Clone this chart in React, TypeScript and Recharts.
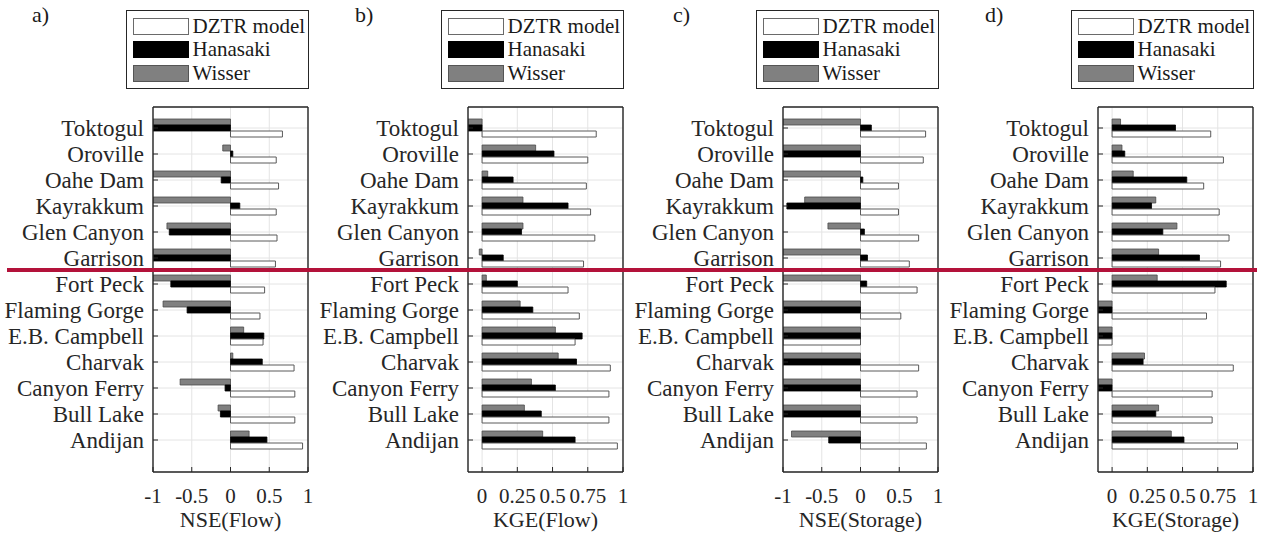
import React from 'react';
import { BarChart, Bar, XAxis, YAxis, CartesianGrid } from 'recharts';

const FONT = "'Liberation Serif', Tinos, 'Times New Roman', Times, 'Nimbus Roman', 'DejaVu Serif', serif";

const reservoirs = [
  'Toktogul', 'Oroville', 'Oahe Dam', 'Kayrakkum', 'Glen Canyon', 'Garrison',
  'Fort Peck', 'Flaming Gorge', 'E.B. Campbell', 'Charvak', 'Canyon Ferry', 'Bull Lake', 'Andijan',
];

const seriesNames = ['DZTR model', 'Hanasaki', 'Wisser'];

// a) NSE(Flow)
const nseFlowDZTR = [0.67, 0.59, 0.62, 0.59, 0.6, 0.58, 0.44, 0.38, 0.42, 0.82, 0.83, 0.83, 0.93];
const nseFlowHanasaki = [-1, 0.03, -0.12, 0.12, -0.79, -1, -0.77, -0.56, 0.43, 0.41, -0.07, -0.13, 0.47];
const nseFlowWisser = [-1, -0.1, -1, -1, -0.82, -1, -1, -0.87, 0.17, 0.03, -0.65, -0.16, 0.24];

// b) KGE(Flow)
const kgeFlowDZTR = [0.81, 0.75, 0.74, 0.77, 0.8, 0.72, 0.61, 0.69, 0.66, 0.91, 0.9, 0.9, 0.96];
const kgeFlowHanasaki = [-0.1, 0.51, 0.22, 0.61, 0.28, 0.15, 0.25, 0.36, 0.71, 0.67, 0.52, 0.42, 0.66];
const kgeFlowWisser = [-0.1, 0.38, 0.04, 0.29, 0.29, -0.02, 0.03, 0.27, 0.52, 0.54, 0.35, 0.3, 0.43];

// c) NSE(Storage)
const nseStorDZTR = [0.84, 0.81, 0.49, 0.49, 0.75, 0.63, 0.73, 0.52, -1, 0.75, 0.73, 0.73, 0.85];
const nseStorHanasaki = [0.14, -1, 0.03, -0.95, 0.05, 0.09, 0.08, -1, -1, -1, -1, -1, -0.41];
const nseStorWisser = [-1, -1, -1, -0.72, -0.42, -1, -1, -1, -1, -1, -1, -1, -0.89];

// d) KGE(Storage)
const kgeStorDZTR = [0.7, 0.79, 0.65, 0.76, 0.83, 0.77, 0.73, 0.67, -0.1, 0.86, 0.71, 0.71, 0.89];
const kgeStorHanasaki = [0.45, 0.09, 0.53, 0.28, 0.36, 0.62, 0.81, -0.1, -0.1, 0.22, -0.1, 0.31, 0.51];
const kgeStorWisser = [0.06, 0.07, 0.15, 0.31, 0.46, 0.33, 0.32, -0.1, -0.1, 0.23, -0.1, 0.33, 0.42];

const nseTicks = [-1, -0.5, 0, 0.5, 1];
const kgeTicks = [0, 0.25, 0.5, 0.75, 1];
const nseDomain: [number, number] = [-1, 1];
const kgeDomain: [number, number] = [-0.1, 1];

const panelLetters = ['a)', 'b)', 'c)', 'd)'];
const axisTitles = ['NSE(Flow)', 'KGE(Flow)', 'NSE(Storage)', 'KGE(Storage)'];

function build(dztr: number[], han: number[], wis: number[]) {
  return reservoirs.map((name, i) => ({ name, dztr: dztr[i], hanasaki: han[i], wisser: wis[i] }));
}

const panels = [
  { data: build(nseFlowDZTR, nseFlowHanasaki, nseFlowWisser), domain: nseDomain, ticks: nseTicks },
  { data: build(kgeFlowDZTR, kgeFlowHanasaki, kgeFlowWisser), domain: kgeDomain, ticks: kgeTicks },
  { data: build(nseStorDZTR, nseStorHanasaki, nseStorWisser), domain: nseDomain, ticks: nseTicks },
  { data: build(kgeStorDZTR, kgeStorHanasaki, kgeStorWisser), domain: kgeDomain, ticks: kgeTicks },
];

const PANEL_W = 315;
const PLOT_LEFT = 153;
const letterX = [32, 355, 673, 985];

const swatches = [
  { fill: '#ffffff', stroke: '#6a6a6a' },
  { fill: '#000000', stroke: '#000000' },
  { fill: '#808080', stroke: '#555555' },
];

function LegendBox({ plotLeft }: { plotLeft: number }) {
  const rowTops = [18, 41, 65];
  return (
    <div
      style={{
        position: 'absolute',
        left: plotLeft - 27,
        top: 10,
        width: 183,
        height: 79,
        border: '1.5px solid #262626',
        boxSizing: 'border-box',
        background: '#fff',
        fontFamily: FONT,
      }}
    >
      {seriesNames.map((n, i) => (
        <React.Fragment key={n}>
          <div
            style={{
              position: 'absolute',
              left: 5.5,
              top: rowTops[i] - 11.5,
              width: 56,
              height: 17,
              boxSizing: 'border-box',
              background: swatches[i].fill,
              border: `1px solid ${swatches[i].stroke}`,
            }}
          />
          <div
            style={{
              position: 'absolute',
              left: 65.5,
              top: rowTops[i] - 11.5 - 3,
              height: 23,
              lineHeight: '23px',
              fontSize: 21,
              color: '#1a1a1a',
              whiteSpace: 'nowrap',
            }}
          >
            {n}
          </div>
        </React.Fragment>
      ))}
    </div>
  );
}

function Panel({ idx }: { idx: number }) {
  const p = panels[idx];
  const axisStroke = { stroke: '#262626', strokeWidth: 1.4 };
  return (
    <div style={{ position: 'absolute', left: idx * PANEL_W, top: 0, width: PANEL_W, height: 537 }}>
      <BarChart
        width={PANEL_W}
        height={537}
        data={p.data}
        layout="vertical"
        margin={{ top: 106, right: 6, bottom: 0, left: 0 }}
        barGap={0}
        barSize={6}
        style={{ fontFamily: FONT }}
      >
        <CartesianGrid xAxisId="bottom" yAxisId="left" stroke="#e4e4e4" strokeWidth={1} />
        <XAxis
          xAxisId="bottom"
          type="number"
          domain={p.domain}
          ticks={p.ticks}
          allowDataOverflow
          interval={0}
          height={65}
          tickSize={-5}
          tickMargin={21}
          axisLine={axisStroke}
          tickLine={{ stroke: '#262626' }}
          tick={{ fill: '#262626', fontSize: 21, fontFamily: FONT }}
          tickFormatter={(v: number) => String(v)}
          label={{ value: axisTitles[idx], position: 'insideBottom', offset: 10, fill: '#262626', fontSize: 22, fontFamily: FONT }}
        />
        <XAxis
          xAxisId="top"
          orientation="top"
          type="number"
          domain={p.domain}
          ticks={p.ticks}
          allowDataOverflow
          interval={0}
          height={1}
          tick={false}
          tickSize={-5}
          axisLine={axisStroke}
          tickLine={{ stroke: '#262626' }}
        />
        <YAxis
          yAxisId="left"
          type="category"
          dataKey="name"
          width={PLOT_LEFT}
          interval={0}
          padding={{ top: 8, bottom: 19 }}
          tickSize={-5}
          tickMargin={14}
          axisLine={axisStroke}
          tickLine={{ stroke: '#262626' }}
          tick={{ fill: '#262626', fontSize: 23, fontFamily: FONT }}
        />
        <YAxis
          yAxisId="right"
          orientation="right"
          type="category"
          dataKey="name"
          width={1}
          interval={0}
          padding={{ top: 8, bottom: 19 }}
          tick={false}
          tickSize={-5}
          axisLine={axisStroke}
          tickLine={{ stroke: '#262626' }}
        />
        <Bar xAxisId="bottom" yAxisId="left" dataKey="wisser" name="Wisser" fill="#808080" stroke="#4a4a4a" strokeWidth={0.8} isAnimationActive={false} />
        <Bar xAxisId="bottom" yAxisId="left" dataKey="hanasaki" name="Hanasaki" fill="#000000" stroke="#000000" strokeWidth={0.8} isAnimationActive={false} />
        <Bar xAxisId="bottom" yAxisId="left" dataKey="dztr" name="DZTR model" fill="#ffffff" stroke="#5a5a5a" strokeWidth={1} isAnimationActive={false} />
      </BarChart>
      <div
        style={{
          position: 'absolute',
          left: letterX[idx] - idx * PANEL_W,
          top: 4,
          fontFamily: FONT,
          fontSize: 22,
          lineHeight: '22px',
          color: '#1a1a1a',
        }}
      >
        {panelLetters[idx]}
      </div>
      <LegendBox plotLeft={PLOT_LEFT} />
    </div>
  );
}

export default function App() {
  return (
    <div style={{ position: 'absolute', left: 0, top: 0, width: 1263, height: 537, background: '#fff', overflow: 'hidden', fontFamily: FONT }}>
      {panels.map((_, i) => (
        <Panel key={i} idx={i} />
      ))}
      <div style={{ position: 'absolute', left: 7, top: 268, width: 1250, height: 4, background: '#B3123A' }} />
    </div>
  );
}
